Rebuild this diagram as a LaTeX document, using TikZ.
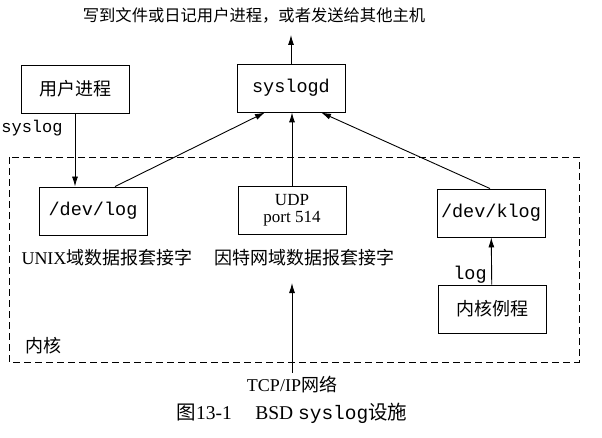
\documentclass[tikz,border=0pt]{standalone}
\usepackage{fontspec}
\setmainfont{Liberation Serif}
\setmonofont{Liberation Mono}
\newfontfamily\cjk{Noto Sans CJK SC}
\usetikzlibrary{arrows.meta, positioning}

\begin{document}
\begin{tikzpicture}[x=1pt, y=-1pt, font=\fontsize{18}{20}\selectfont,
  line width=0.9pt,
  box/.style={draw, minimum width=108pt, minimum height=48pt, inner sep=2pt},
  code/.style={font=\fontsize{18.5}{20}\selectfont\ttfamily},
  >={Latex[length=10pt, width=6pt]}]
\useasboundingbox (0,0) rectangle (602,438);

% kernel area
\draw[dashed, dash pattern=on 7pt off 4pt] (9,157) rectangle (579,362);

\node[font=\fontsize{16.3}{18}\selectfont] (title) at (254,15) {\cjk 写到文件或日记用户进程，或者发送给其他主机};
\node[box] (user) at (75,89) {\cjk 用户进程};
\node[box, code] (syslogd) at (291,88) {syslogd};
\node[box, code] (devlog) at (93,211) {/dev/log};
\node[box, align=center, font=\fontsize{17}{17}\selectfont] (udp) at (292,210) {UDP\\port 514};
\node[box, code] (klog) at (491,213) {/dev/klog};
\node[box] (kroutine) at (492,309) {\cjk 内核例程};

\node[code, font=\fontsize{17}{18}\selectfont\ttfamily] (sysloglbl) at (32,128) {syslog};
\node[code] (loglbl) at (470,275) {log};
\node (unixlbl) at (107,258) {UNIX{\cjk 域数据报套接字}};
\node (inetlbl) at (304,258) {\cjk 因特网域数据报套接字};
\node (kernel) at (43,346) {\cjk 内核};
\node (tcpip) at (292,385) {TCP/IP{\cjk 网络}};
\node[font=\fontsize{19.5}{21}\selectfont] (caption) at (292,413) {{\cjk 图}13-1\hspace{1.2em}BSD {\ttfamily syslog}{\cjk 设施}};

\coordinate (out) at (291,35);
\coordinate (netin) at (292,283);

% connectors
\draw[->] (syslogd) -- (out);
\draw[->] (user) -- (user |- devlog.north);
\draw[->] ([xshift=22pt]devlog.north) -- ([xshift=-26pt]syslogd.south);
\draw[->] (udp.north) -- (udp.north |- syslogd.south);
\draw[->] ([xshift=-1pt]klog.north) -- ([xshift=30pt]syslogd.south);
\draw[->] (kroutine) -- (klog);
\draw[->] (tcpip) -- (netin);
\end{tikzpicture}
\end{document}
